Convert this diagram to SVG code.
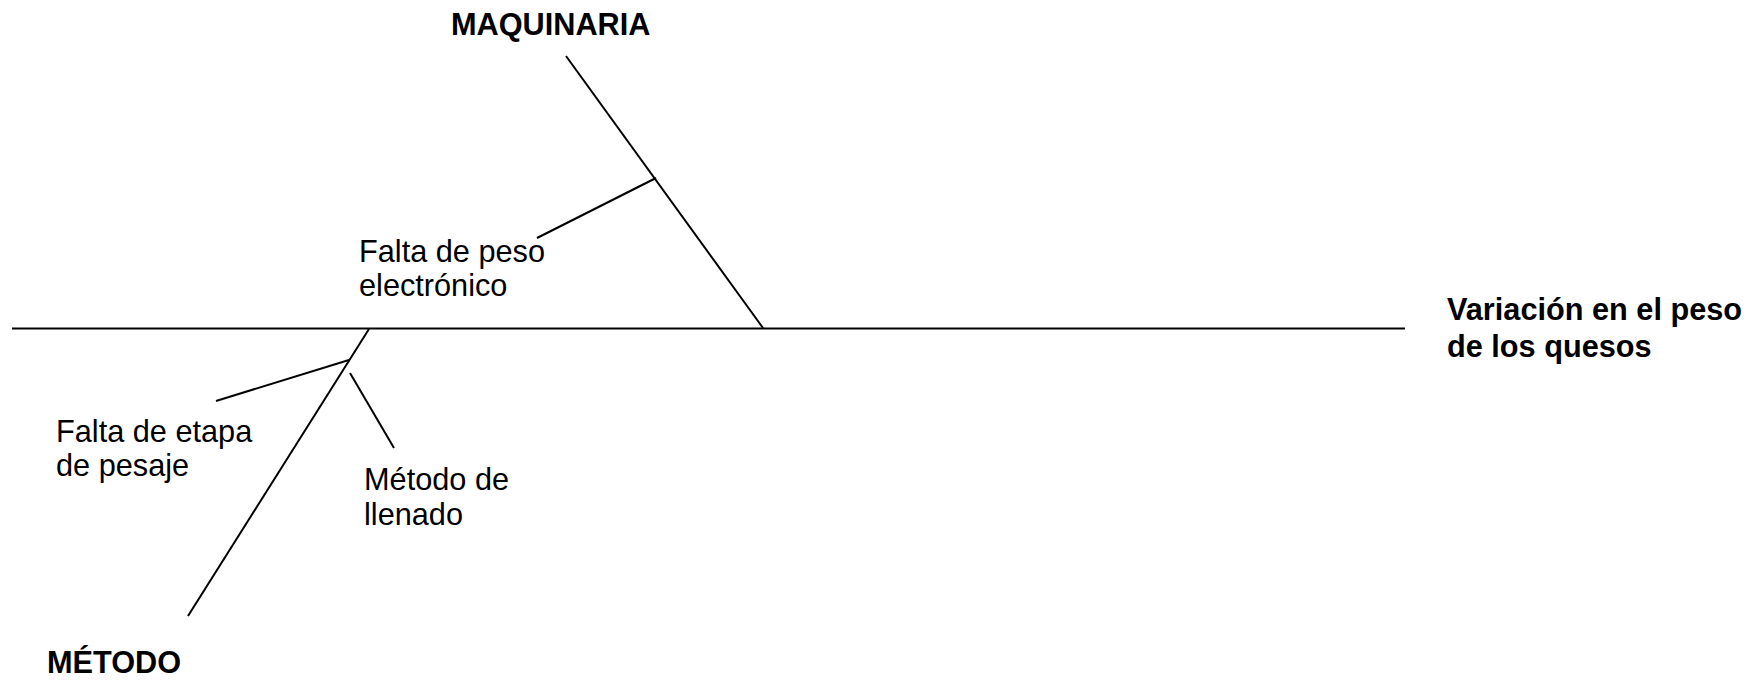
<svg xmlns="http://www.w3.org/2000/svg" width="1755" height="680" viewBox="0 0 1755 680">
<style>
.t{font-family:"Liberation Sans",Arial,sans-serif;font-size:30.7px;fill:#000}
.b{font-weight:bold}
.ln{stroke:#000;stroke-width:2;fill:none}
</style>
<rect width="1755" height="680" fill="#fff"/>
<g id="connectors">
<line class="ln" x1="12" y1="328.5" x2="1405" y2="328.5"/>
<line class="ln" x1="566" y1="56" x2="763" y2="328"/>
<line class="ln" x1="656" y1="178" x2="537" y2="238"/>
<line class="ln" x1="369" y1="329" x2="188" y2="616"/>
<line class="ln" x1="349" y1="360" x2="216" y2="401"/>
<line class="ln" x1="350" y1="373" x2="394" y2="448"/>
</g>
<g id="maquinaria"><text class="t b" x="451" y="35">MAQUINARIA</text></g>
<g id="metodo"><text class="t b" x="47" y="673">MÉTODO</text></g>
<g id="efecto"><text class="t b" x="1447" y="320">Variación en el peso</text><text class="t b" x="1447" y="357">de los quesos</text></g>
<g id="falta-peso"><text class="t" x="359" y="262">Falta de peso</text><text class="t" x="359" y="296">electrónico</text></g>
<g id="falta-etapa"><text class="t" x="56" y="442">Falta de etapa</text><text class="t" x="56" y="476">de pesaje</text></g>
<g id="metodo-llenado"><text class="t" x="364" y="490">Método de</text><text class="t" x="364" y="525">llenado</text></g>
</svg>
